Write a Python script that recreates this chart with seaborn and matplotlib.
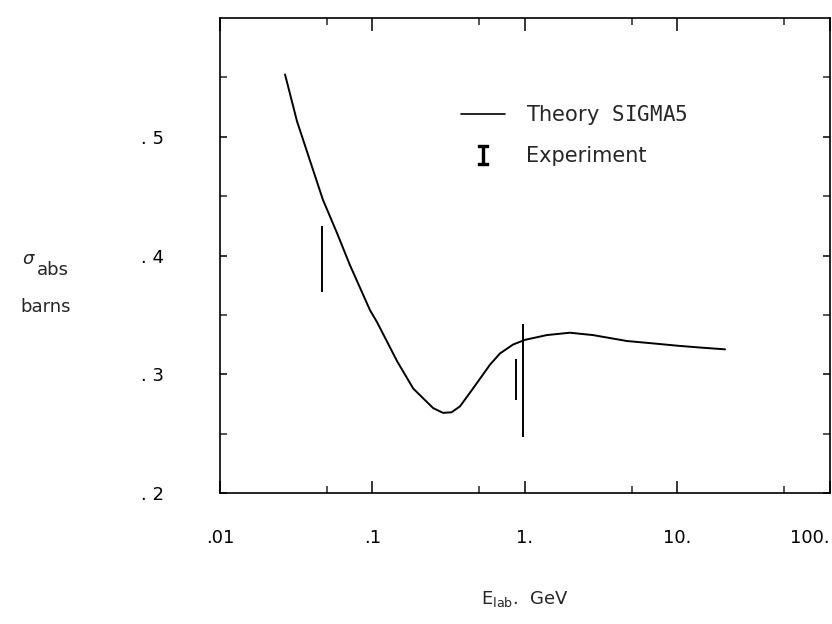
import matplotlib
matplotlib.use("Agg")
import matplotlib.pyplot as plt
import matplotlib.ticker as mticker
from matplotlib.lines import Line2D
import numpy as np
import pandas as pd
import seaborn as sns

# ---- data ----
theory_E = [0.0267, 0.0320, 0.0389, 0.0473, 0.0585, 0.0711, 0.0963, 0.107,
            0.145, 0.185, 0.214, 0.250, 0.290, 0.330, 0.375, 0.456, 0.589,
            0.685, 0.834, 1.0, 1.39, 1.97, 2.79, 4.67, 6.91, 10.1, 14.1, 20.5]
theory_sigma = [0.5525, 0.513, 0.480, 0.447, 0.419, 0.392, 0.354, 0.344,
                0.311, 0.288, 0.280, 0.2715, 0.2675, 0.268, 0.273, 0.288, 0.308,
                0.3175, 0.325, 0.329, 0.333, 0.335, 0.333, 0.328, 0.326, 0.324,
                0.3225, 0.321]

exp_E = [0.047, 0.87, 0.97]
exp_lo = [0.369, 0.278, 0.2475]
exp_hi = [0.425, 0.313, 0.3425]

x_ticks = [0.01, 0.1, 1, 10, 100]
x_ticklabels = [".01", ".1", "1.", "10.", "100."]
x_minor = [0.05, 0.5, 5, 50]
y_ticks = [0.2, 0.3, 0.4, 0.5]
y_ticklabels = [". 2", ". 3", ". 4", ". 5"]
y_minor = [0.25, 0.35, 0.45, 0.55]

sns.set_theme(style="white")
plt.rcParams['font.family'] = ['DejaVu Sans']

fig = plt.figure(figsize=(8.32, 6.24), dpi=100)
ax = fig.add_axes([0.2644, 0.2099, 0.7332, 0.7612])

df = pd.DataFrame({"E": theory_E, "sigma": theory_sigma})
sns.lineplot(data=df, x="E", y="sigma", ax=ax, color="black", linewidth=1.4,
             sort=False, estimator=None)

ax.vlines(np.array(exp_E), np.array(exp_lo), np.array(exp_hi),
          color="black", linewidth=1.4)

ax.set_xscale("log")
ax.set_xlim(0.01, 100)
ax.set_ylim(0.2, 0.6)

ax.xaxis.set_major_locator(mticker.FixedLocator(x_ticks))
ax.xaxis.set_major_formatter(mticker.FixedFormatter(x_ticklabels))
ax.xaxis.set_minor_locator(mticker.FixedLocator(x_minor))
ax.xaxis.set_minor_formatter(mticker.NullFormatter())
ax.yaxis.set_major_locator(mticker.FixedLocator(y_ticks))
ax.yaxis.set_major_formatter(mticker.FixedFormatter(y_ticklabels))
ax.yaxis.set_minor_locator(mticker.FixedLocator(y_minor))

ax.tick_params(axis="x", which="major", direction="in", length=9, width=1.1,
               top=True, bottom=True, pad=26, labelsize=13, colors="black")
ax.tick_params(axis="x", which="minor", direction="in", length=5, width=1.1,
               top=True, bottom=True)
ax.tick_params(axis="y", which="major", direction="in", length=5, width=1.1,
               left=True, right=True, pad=40, labelsize=13, colors="black")
ax.tick_params(axis="y", which="minor", direction="in", length=5, width=1.1,
               left=True, right=True)

for sp in ax.spines.values():
    sp.set_visible(True)
    sp.set_color("black")
    sp.set_linewidth(1.2)

fig.canvas.draw()
xlabels = ax.get_xticklabels()
xlabels[-1].set_horizontalalignment("right")
xlabels[-1].set_x(100)

ax.set_xlabel(r"E$_{\mathregular{lab}}$.  GeV", fontsize=13, labelpad=30)
ax.set_ylabel("")

fig.text(0.026, 0.585, r"$\sigma$", fontsize=13, ha="left", va="center")
fig.text(0.044, 0.568, "abs", fontsize=13, ha="left", va="center")
fig.text(0.024, 0.508, "barns", fontsize=13, ha="left", va="center")

handles = [Line2D([], [], color="black", linewidth=1.2),
           Line2D([], [], color="black", linestyle="none",
                  marker=r"$\mathtt{I}$", markersize=14)]
labels = [r"Theory  $\mathtt{SIGMA5}$", "Experiment"]
ax.legend(handles, labels, loc="upper left", bbox_to_anchor=(0.365, 0.86),
          frameon=False, fontsize=15, handlelength=2.1, handletextpad=1.0,
          labelspacing=0.9)

fig.savefig("out.png", dpi=100, facecolor="white")
